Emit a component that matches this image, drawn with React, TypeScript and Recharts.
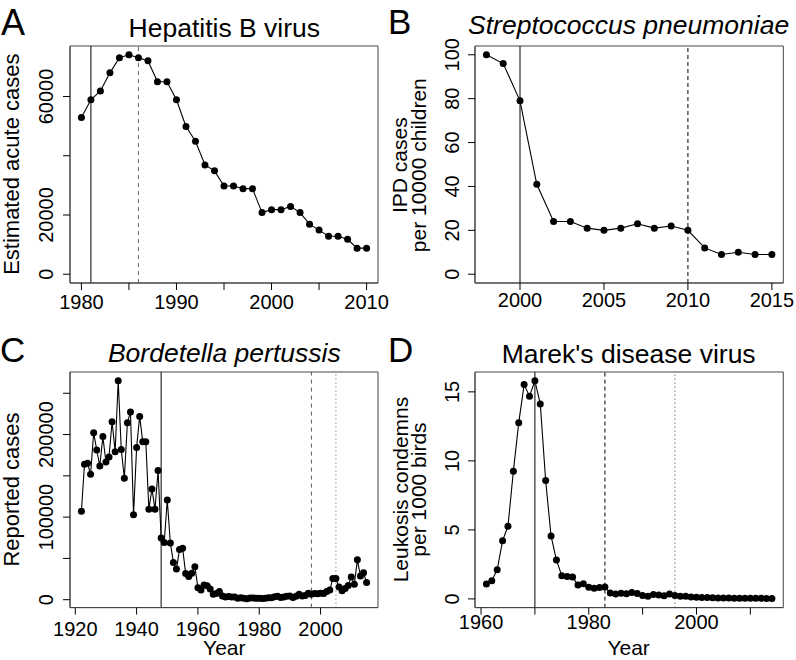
import React from 'react';
import { LineChart, Line, XAxis, YAxis, ReferenceLine, ReferenceArea } from 'recharts';

const FONT = '"Liberation Sans", Arial, Helvetica, sans-serif';
const BOX = '#444';
const TICK_FONT = 20;

// A: hepatitis B
const hbvYears = [1980, 1981, 1982, 1983, 1984, 1985, 1986, 1987, 1988, 1989, 1990, 1991, 1992, 1993, 1994, 1995, 1996, 1997, 1998, 1999, 2000, 2001, 2002, 2003, 2004, 2005, 2006, 2007, 2008, 2009, 2010];
const hbvCases = [52900, 58900, 61900, 68000, 73100, 74100, 73100, 72100, 65000, 65000, 58900, 49900, 44900, 36900, 34900, 29800, 29800, 28900, 28900, 20800, 21800, 21800, 22900, 20800, 16900, 14900, 12800, 12800, 11800, 8800, 8800];
const hbvXTicks = [1980, 1985, 1990, 1995, 2000, 2005, 2010];
const hbvXLabels = [1980, 1990, 2000, 2010];
const hbvYTicks = [0, 20000, 40000, 60000];
const hbvYLabels = [0, 20000, 60000];

// B: S. pneumoniae
const ipdYears = [1998, 1999, 2000, 2001, 2002, 2003, 2004, 2005, 2006, 2007, 2008, 2009, 2010, 2011, 2012, 2013, 2014, 2015];
const ipdCases = [100, 96, 79, 41, 24, 24, 21, 20, 21, 23, 21, 22, 20, 12, 9, 10, 9, 9];
const ipdXTicks = [2000, 2005, 2010, 2015];
const ipdYTicks = [0, 20, 40, 60, 80, 100];

// C: pertussis
const pertYears = [
  1922, 1923, 1924, 1925, 1926, 1927, 1928, 1929, 1930, 1931, 1932, 1933, 1934, 1935, 1936, 1937, 1938, 1939, 1940, 1941,
  1942, 1943, 1944, 1945, 1946, 1947, 1948, 1949, 1950, 1951, 1952, 1953, 1954, 1955, 1956, 1957, 1958, 1959, 1960, 1961,
  1962, 1963, 1964, 1965, 1966, 1967, 1968, 1969, 1970, 1971, 1972, 1973, 1974, 1975, 1976, 1977, 1978, 1979, 1980, 1981,
  1982, 1983, 1984, 1985, 1986, 1987, 1988, 1989, 1990, 1991, 1992, 1993, 1994, 1995, 1996, 1997, 1998, 1999, 2000, 2001,
  2002, 2003, 2004, 2005, 2006, 2007, 2008, 2009, 2010, 2011, 2012, 2013, 2014, 2015,
];
const pertCases = [
  107200, 164000, 165200, 151900, 202300, 181300, 162000, 197500, 166800, 172900, 215600, 179300, 265200, 181800, 147100, 214400, 227300, 102800, 184200, 222000,
  191400, 191400, 109600, 134200, 109600, 156400, 74800, 69300, 120700, 68700, 45100, 37100, 60700, 62400, 31800, 28000, 32000, 40000, 14600, 11600,
  17700, 17000, 13100, 6600, 7500, 9800, 4600, 3400, 4000, 3200, 3200, 1800, 2300, 1700, 1000, 2200, 2000, 1600, 1700, 1300,
  1900, 2500, 2300, 3600, 4200, 2800, 3400, 4100, 4600, 2700, 4100, 6600, 4600, 5100, 7800, 6600, 7400, 7300, 7900, 7600,
  9800, 11600, 25800, 25600, 15400, 10800, 13500, 17100, 27600, 18800, 48300, 28600, 32700, 20700,
];
const pertXTicks = [1920, 1940, 1960, 1980, 2000];
const pertYTicks = [0, 50000, 100000, 150000, 200000, 250000];
const pertYLabels = [0, 100000, 200000];

// D: Marek's disease
const mdvYears = [
  1961, 1962, 1963, 1964, 1965, 1966, 1967, 1968, 1969, 1970, 1971, 1972, 1973, 1974, 1975, 1976, 1977, 1978, 1979, 1980,
  1981, 1982, 1983, 1984, 1985, 1986, 1987, 1988, 1989, 1990, 1991, 1992, 1993, 1994, 1995, 1996, 1997, 1998, 1999, 2000,
  2001, 2002, 2003, 2004, 2005, 2006, 2007, 2008, 2009, 2010, 2011, 2012, 2013, 2014,
];
const mdvRate = [
  1.08, 1.32, 2.11, 4.22, 5.26, 9.24, 12.77, 15.53, 14.69, 15.81, 14.13, 8.57, 4.56, 2.81, 1.68, 1.63, 1.58, 1.0, 1.1, 0.84,
  0.77, 0.82, 0.86, 0.43, 0.36, 0.41, 0.38, 0.46, 0.4, 0.24, 0.19, 0.31, 0.29, 0.22, 0.36, 0.24, 0.19, 0.19, 0.13, 0.12,
  0.1, 0.11, 0.08, 0.07, 0.07, 0.06, 0.05, 0.05, 0.04, 0.04, 0.04, 0.04, 0.03, 0.03,
];
const mdvXTicks = [1960, 1970, 1980, 1990, 2000, 2010];
const mdvXLabels = [1960, 1980, 2000];
const mdvYTicks = [0, 5, 10, 15];

type Mark = { x: number; dash?: string; color?: string };
type Box = { x: number; y: number; w: number; h: number };

interface PanelProps {
  box: Box;
  years: number[];
  values: number[];
  xDomain: [number, number];
  yDomain: [number, number];
  xTicks: number[];
  xLabels: number[];
  yTicks: number[];
  yLabels: number[];
  xBase: number; // label baseline below the box
  yBase: number; // label baseline left of the box
  marks: Mark[];
}

const padL = 70;
const padT = 10;
const padR = 12;
const padB = 60;
const TICK = 7;

function Panel({ box, years, values, xDomain, yDomain, xTicks, xLabels, yTicks, yLabels, xBase, yBase, marks }: PanelProps) {
  const data = years.map((year, i) => ({ year, v: values[i] }));

  const xTick = (p: any) => {
    const v = p.payload.value;
    if (!xLabels.includes(v)) return <g />;
    return (
      <text x={p.x} y={p.y + (xBase - TICK)} textAnchor="middle" fontSize={TICK_FONT} fontFamily={FONT} fill="#000">
        {v}
      </text>
    );
  };
  const yTick = (p: any) => {
    const v = p.payload.value;
    if (!yLabels.includes(v)) return <g />;
    const bx = p.x - (yBase - TICK);
    return (
      <text x={bx} y={p.y} transform={`rotate(-90 ${bx} ${p.y})`} textAnchor="middle" fontSize={TICK_FONT} fontFamily={FONT} fill="#000">
        {v}
      </text>
    );
  };

  return (
    <div style={{ position: 'absolute', left: box.x - padL, top: box.y - padT }}>
      <LineChart width={box.w + padL + padR} height={box.h + padT + padB} data={data} margin={{ top: padT, right: padR, left: 0, bottom: 0 }}>
        <XAxis
          dataKey="year"
          type="number"
          domain={xDomain}
          allowDataOverflow
          ticks={xTicks}
          interval={0}
          height={padB}
          tickSize={TICK}
          tickMargin={0}
          axisLine={{ stroke: BOX }}
          tickLine={{ stroke: '#000' }}
          tick={xTick}
        />
        <YAxis
          type="number"
          domain={yDomain}
          allowDataOverflow
          ticks={yTicks}
          interval={0}
          width={padL}
          tickSize={TICK}
          tickMargin={0}
          axisLine={{ stroke: BOX }}
          tickLine={{ stroke: '#000' }}
          tick={yTick}
        />
        <ReferenceArea x1={xDomain[0]} x2={xDomain[1]} y1={yDomain[0]} y2={yDomain[1]} fill="none" fillOpacity={0} stroke={BOX} strokeWidth={1} ifOverflow="visible" />
        {marks.map((m) => (
          <ReferenceLine key={m.x} x={m.x} stroke={m.color || '#000'} strokeWidth={1} strokeDasharray={m.dash} />
        ))}
        <Line
          type="linear"
          dataKey="v"
          stroke="#000"
          strokeWidth={1.1}
          dot={{ r: 3.5, fill: '#000', stroke: '#000', strokeWidth: 0 }}
          isAnimationActive={false}
        />
      </LineChart>
    </div>
  );
}

const boxA: Box = { x: 70.3, y: 45.7, w: 308, h: 237 };
const boxB: Box = { x: 474.5, y: 45.7, w: 308.3, h: 237 };
const boxC: Box = { x: 70.3, y: 371.7, w: 308, h: 235.6 };
const boxD: Box = { x: 474.5, y: 371.7, w: 308.3, h: 235.6 };

const mid = (b: Box) => b.x + b.w / 2;
const midY = (b: Box) => b.y + b.h / 2;

function VText({ x, y, size, children }: { x: number; y: number; size: number; children: React.ReactNode }) {
  return (
    <text x={x} y={y} transform={`rotate(-90 ${x} ${y})`} textAnchor="middle" fontSize={size} fontFamily={FONT} fill="#000">
      {children}
    </text>
  );
}

export default function App() {
  const txt = { fontFamily: FONT, fill: '#000' };
  return (
    <div style={{ position: 'absolute', left: 0, top: 0, width: 796, height: 660, background: '#fff', overflow: 'hidden' }}>
      <Panel
        box={boxA}
        years={hbvYears}
        values={hbvCases}
        xDomain={[1978.8, 2011.2]}
        yDomain={[-2964, 77064]}
        xTicks={hbvXTicks}
        xLabels={hbvXLabels}
        yTicks={hbvYTicks}
        yLabels={hbvYLabels}
        xBase={26.3}
        yBase={17.3}
        marks={[{ x: 1981 }, { x: 1986, dash: '4 4', color: '#666' }]}
      />
      <Panel
        box={boxB}
        years={ipdYears}
        values={ipdCases}
        xDomain={[1997.32, 2015.68]}
        yDomain={[-4, 104]}
        xTicks={ipdXTicks}
        xLabels={ipdXTicks}
        yTicks={ipdYTicks}
        yLabels={ipdYTicks}
        xBase={24.5}
        yBase={16}
        marks={[{ x: 2000 }, { x: 2010, dash: '4 3', color: '#000' }]}
      />
      <Panel
        box={boxC}
        years={pertYears}
        values={pertCases}
        xDomain={[1918.28, 2018.72]}
        yDomain={[-9568, 275768]}
        xTicks={pertXTicks}
        xLabels={pertXTicks}
        yTicks={pertYTicks}
        yLabels={pertYLabels}
        xBase={28.7}
        yBase={17.3}
        marks={[{ x: 1948 }, { x: 1997, dash: '4 4', color: '#555' }, { x: 2005, dash: '1 3', color: '#555' }]}
      />
      <Panel
        box={boxD}
        years={mdvYears}
        values={mdvRate}
        xDomain={[1958.88, 2016.12]}
        yDomain={[-0.63, 16.44]}
        xTicks={mdvXTicks}
        xLabels={mdvXLabels}
        yTicks={mdvYTicks}
        yLabels={mdvYTicks}
        xBase={21}
        yBase={16}
        marks={[{ x: 1970 }, { x: 1983, dash: '4 3', color: '#000' }, { x: 1996, dash: '1 3', color: '#333' }]}
      />

      <svg width={796} height={660} style={{ position: 'absolute', left: 0, top: 0, pointerEvents: 'none' }}>
        {/* panel letters */}
        <text x={1} y={35} fontSize={36} {...txt}>A</text>
        <text x={388} y={34} fontSize={35} {...txt}>B</text>
        <text x={0} y={362} fontSize={35} {...txt}>C</text>
        <text x={388} y={362} fontSize={35} {...txt}>D</text>

        {/* titles */}
        <text x={mid(boxA)} y={37} fontSize={26.5} textAnchor="middle" {...txt}>Hepatitis B virus</text>
        <text x={mid(boxB)} y={34} fontSize={26.5} textAnchor="middle" fontStyle="italic" {...txt}>Streptococcus pneumoniae</text>
        <text x={mid(boxC)} y={362} fontSize={26.5} textAnchor="middle" fontStyle="italic" {...txt}>Bordetella pertussis</text>
        <text x={mid(boxD)} y={363} fontSize={26.5} textAnchor="middle" {...txt}>Marek's disease virus</text>

        {/* axis titles */}
        <VText x={19.5} y={midY(boxA)} size={22}>Estimated acute cases</VText>
        <VText x={407.5} y={midY(boxB) + 1} size={21}>IPD cases</VText>
        <VText x={426} y={midY(boxB) + 1} size={21}>per 10000 children</VText>
        <VText x={19} y={midY(boxC)} size={22}>Reported cases</VText>
        <VText x={407.5} y={midY(boxD)} size={21}>Leukosis condemns</VText>
        <VText x={426} y={midY(boxD)} size={21}>per 1000 birds</VText>
        <text x={mid(boxC)} y={655} fontSize={21} textAnchor="middle" {...txt}>Year</text>
        <text x={mid(boxD)} y={655} fontSize={21} textAnchor="middle" {...txt}>Year</text>
      </svg>
    </div>
  );
}
